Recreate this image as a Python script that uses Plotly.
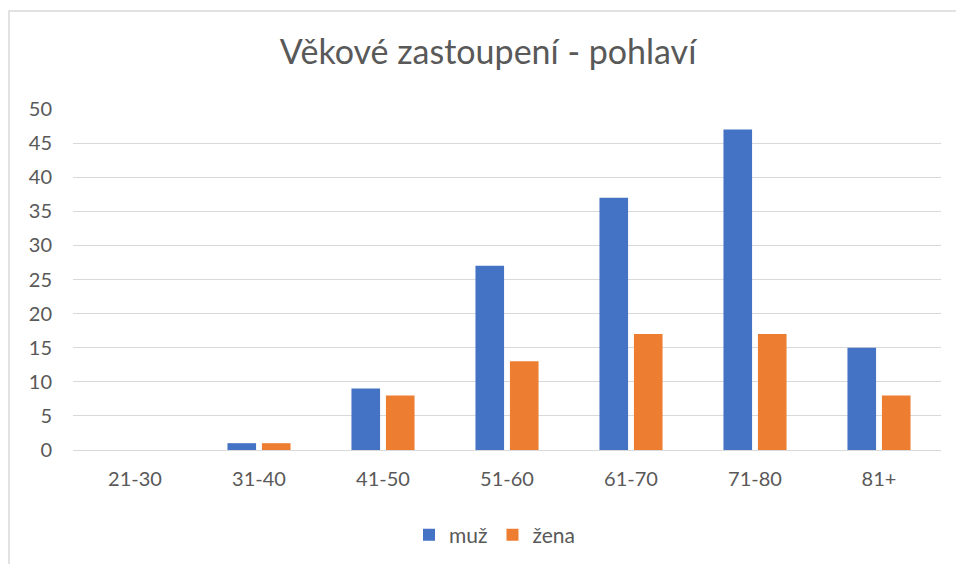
import plotly.graph_objects as go

categories = ["21-30", "31-40", "41-50", "51-60", "61-70", "71-80", "81+"]
muz = [0, 1, 9, 27, 37, 47, 15]
zena = [0, 1, 8, 13, 17, 17, 8]
y_ticks = [0, 5, 10, 15, 20, 25, 30, 35, 40, 45, 50]

FONT = "Lato"
GRAY = "#595959"

W, H = 956, 564
L, T = 73, 109
PW, PH = 868, 341
R, B = W - L - PW, H - T - PH

fig = go.Figure()
fig.add_trace(go.Bar(x=categories, y=muz, name="muž", marker=dict(color="#4472C4", line=dict(width=0))))
fig.add_trace(go.Bar(x=categories, y=zena, name="žena", marker=dict(color="#ED7D31", line=dict(width=0))))

fig.update_layout(
    width=W, height=H,
    margin=dict(l=L, r=R, t=T, b=B, autoexpand=False),
    paper_bgcolor="white", plot_bgcolor="white",
    barmode="group", bargap=0.444, bargroupgap=0.17,
    font=dict(family=FONT, color=GRAY, size=20),
    title=dict(text="Věkové zastoupení - pohlaví", x=488 / W, xanchor="center",
               y=1 - 52 / H, yanchor="middle", font=dict(size=34, color=GRAY, family=FONT)),
    xaxis=dict(showgrid=False, showline=False, ticks="", tickfont=dict(size=20, color=GRAY),
               ticklabelstandoff=15, automargin=False),
    yaxis=dict(range=[0, 50], tickvals=y_ticks, showgrid=True, gridcolor="#d9d9d9", gridwidth=1,
               zeroline=True, zerolinecolor="#d9d9d9", zerolinewidth=1, automargin=False,
               showline=False, ticks="", tickfont=dict(size=20, color=GRAY), ticklabelstandoff=20),
    legend=dict(orientation="h", x=0.5 - 12 / PW, xanchor="center", yref="container", y=(H - 535) / H,
                yanchor="middle", font=dict(size=21, color=GRAY), itemwidth=30),
    showlegend=True,
    shapes=[dict(type="rect", xref="paper", yref="paper",
                 x0=(9 - L) / PW, x1=1.3, y0=-0.6, y1=(PH + T - 11) / PH,
                 line=dict(color="#d9d9d9", width=1.5), fillcolor="rgba(0,0,0,0)", layer="below")],
)

fig.write_html("out.html", config={"displayModeBar": False},
               post_script="document.body.style.margin='0';document.body.style.overflow='hidden';")
